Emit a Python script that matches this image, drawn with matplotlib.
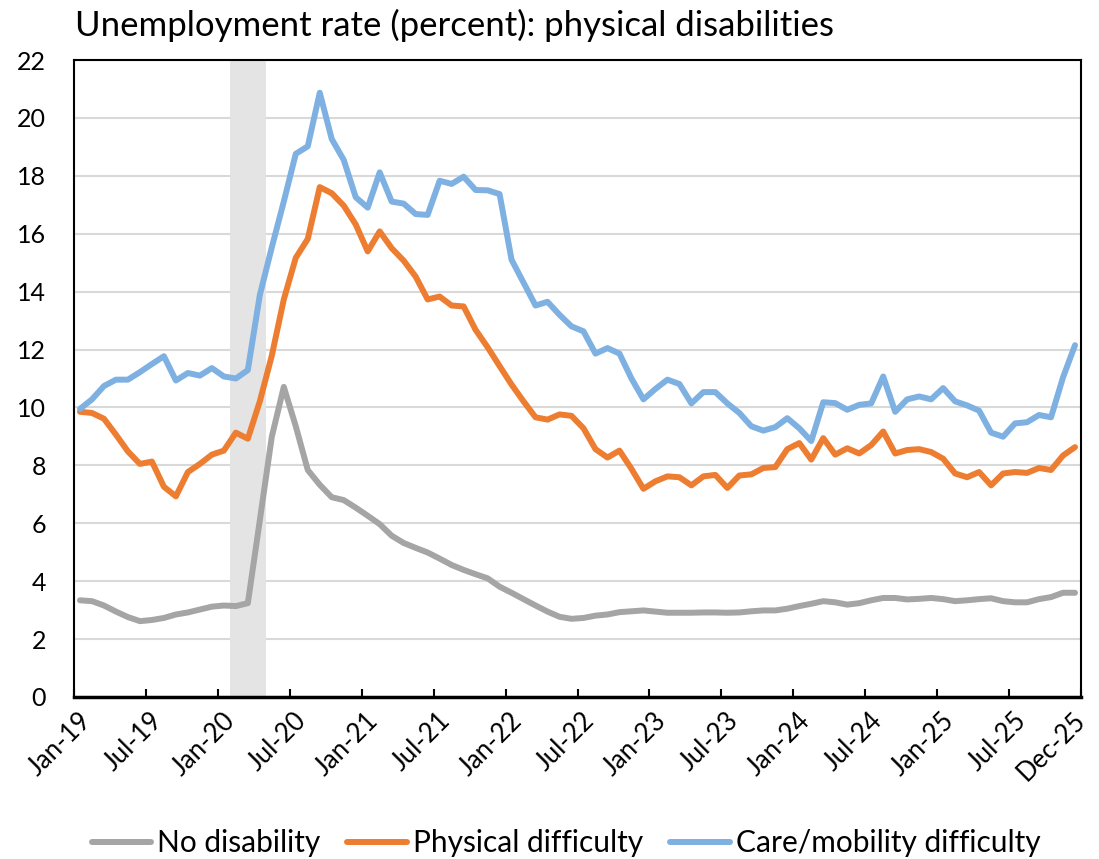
import numpy as np
import matplotlib
matplotlib.use("Agg")
import matplotlib.pyplot as plt
import matplotlib.transforms as mtransforms
from matplotlib.ticker import FixedLocator

plt.rcParams.update({
    "font.family": ["Lato", "DejaVu Sans"],
    "font.size": 18,
})

GRAY, ORANGE, BLUE = "#A5A5A5", "#ED7D31", "#7EB1E1"

# monthly, Jan-2019 .. Dec-2025 (84 months)
no_disability = [
    3.34, 3.31, 3.16, 2.95, 2.76, 2.62, 2.66, 2.73, 2.85, 2.92, 3.02, 3.12,
    3.16, 3.14, 3.24, 6.10, 8.99, 10.71, 9.35, 7.84, 7.33, 6.90, 6.80, 6.54,
    6.26, 5.97, 5.57, 5.32, 5.15, 4.99, 4.78, 4.56, 4.39, 4.24, 4.10, 3.81,
    3.60, 3.38, 3.16, 2.95, 2.77, 2.70, 2.73, 2.81, 2.85, 2.93, 2.96, 2.99,
    2.95, 2.91, 2.91, 2.91, 2.92, 2.92, 2.91, 2.92, 2.96, 2.99, 2.99, 3.05,
    3.14, 3.22, 3.31, 3.27, 3.19, 3.24, 3.34, 3.42, 3.42, 3.37, 3.39, 3.42,
    3.38, 3.31, 3.34, 3.38, 3.41, 3.31, 3.27, 3.27, 3.38, 3.45, 3.60, 3.60,
]
physical = [
    9.85, 9.81, 9.61, 9.06, 8.48, 8.05, 8.13, 7.26, 6.93, 7.77, 8.05, 8.37,
    8.51, 9.13, 8.92, 10.21, 11.79, 13.73, 15.17, 15.82, 17.61, 17.40, 16.97, 16.32,
    15.39, 16.08, 15.50, 15.07, 14.52, 13.73, 13.83, 13.52, 13.49, 12.68, 12.08, 11.43,
    10.79, 10.21, 9.66, 9.58, 9.76, 9.71, 9.28, 8.56, 8.27, 8.51, 7.88, 7.19,
    7.45, 7.62, 7.59, 7.31, 7.62, 7.67, 7.22, 7.65, 7.69, 7.91, 7.94, 8.56,
    8.77, 8.20, 8.94, 8.37, 8.59, 8.41, 8.70, 9.17, 8.41, 8.53, 8.56, 8.46,
    8.23, 7.72, 7.59, 7.77, 7.31, 7.72, 7.77, 7.74, 7.91, 7.84, 8.34, 8.63,
]
care_mobility = [
    9.95, 10.28, 10.74, 10.96, 10.96, 11.22, 11.50, 11.77, 10.93, 11.19, 11.10, 11.36,
    11.07, 11.00, 11.29, 13.88, 15.53, 17.11, 18.76, 19.02, 20.87, 19.27, 18.55, 17.26,
    16.90, 18.12, 17.11, 17.04, 16.68, 16.65, 17.83, 17.72, 17.97, 17.51, 17.50, 17.37,
    15.10, 14.31, 13.52, 13.65, 13.20, 12.80, 12.63, 11.86, 12.05, 11.86, 11.00, 10.28,
    10.64, 10.96, 10.81, 10.14, 10.53, 10.53, 10.14, 9.81, 9.35, 9.20, 9.32, 9.63,
    9.28, 8.84, 10.18, 10.15, 9.92, 10.09, 10.14, 11.07, 9.85, 10.28, 10.38, 10.28,
    10.67, 10.21, 10.07, 9.89, 9.13, 8.99, 9.45, 9.49, 9.74, 9.66, 11.04, 12.15,
]
tick_labels = ["Jan-19", "Jul-19", "Jan-20", "Jul-20", "Jan-21", "Jul-21", "Jan-22",
               "Jul-22", "Jan-23", "Jul-23", "Jan-24", "Jul-24", "Jan-25", "Jul-25",
               "Dec-25"]
label_idx = [0, 6, 12, 18, 24, 30, 36, 42, 48, 54, 60, 66, 72, 78, 83]
recession = (13, 15)  # Feb-20 .. Apr-20

x = np.arange(len(physical))

fig = plt.figure(figsize=(10.99, 8.59), dpi=100)
ax = fig.add_axes([74 / 1099, 1 - 697 / 859, (1081 - 74) / 1099, (697 - 60) / 859])

ax.axvspan(recession[0] - 0.5, recession[1] + 0.5, color="#E4E4E4", lw=0, zorder=1)
ax.plot(x, no_disability, color=GRAY, lw=4.3, label="No disability", zorder=3,
        solid_joinstyle="round", solid_capstyle="round")
ax.plot(x, physical, color=ORANGE, lw=4.3, label="Physical difficulty", zorder=3,
        solid_joinstyle="round", solid_capstyle="round")
ax.plot(x, care_mobility, color=BLUE, lw=4.3, label="Care/mobility difficulty", zorder=3,
        solid_joinstyle="round", solid_capstyle="round")

ax.set_xlim(-0.5, len(x) - 0.5)
ax.set_ylim(0, 22)
ax.set_yticks(np.arange(0, 23, 2))
ax.yaxis.grid(True, color="#D9D9D9", lw=1.5, zorder=0)
ax.set_axisbelow(True)
ax.tick_params(axis="y", length=0, pad=20)

# tick marks at month boundaries, labels at month centres
ax.xaxis.set_major_locator(FixedLocator(np.arange(-0.5, len(x), 6)))
ax.tick_params(axis="x", which="major", direction="in", length=6, width=1.5,
               labelbottom=False)
ax.xaxis.set_minor_locator(FixedLocator(label_idx))
ax.set_xticklabels(tick_labels, minor=True)
ax.tick_params(axis="x", which="minor", length=0, pad=14, labelsize=18.5)
shift = mtransforms.ScaledTranslation(7 / 100, 0, fig.dpi_scale_trans)
for lab in ax.get_xticklabels(minor=True):
    lab.set_rotation(45)
    lab.set_ha("right")
    lab.set_va("center")
    lab.set_rotation_mode("anchor")
    lab.set_transform(lab.get_transform() + shift)

for side in ["left", "right", "top"]:
    ax.spines[side].set_linewidth(1.5)
ax.spines["bottom"].set_linewidth(2.5)

fig.text(75 / 1099, 1 - 25 / 859, "Unemployment rate (percent): physical disabilities",
         fontsize=25, va="center", ha="left")

fig.legend(loc="center", bbox_to_anchor=(0.515, 1 - 843 / 859), ncol=3, frameon=False,
           handlelength=2.0, handletextpad=0.2, columnspacing=0.9, fontsize=21.5)

fig.savefig("out.png", dpi=100)
